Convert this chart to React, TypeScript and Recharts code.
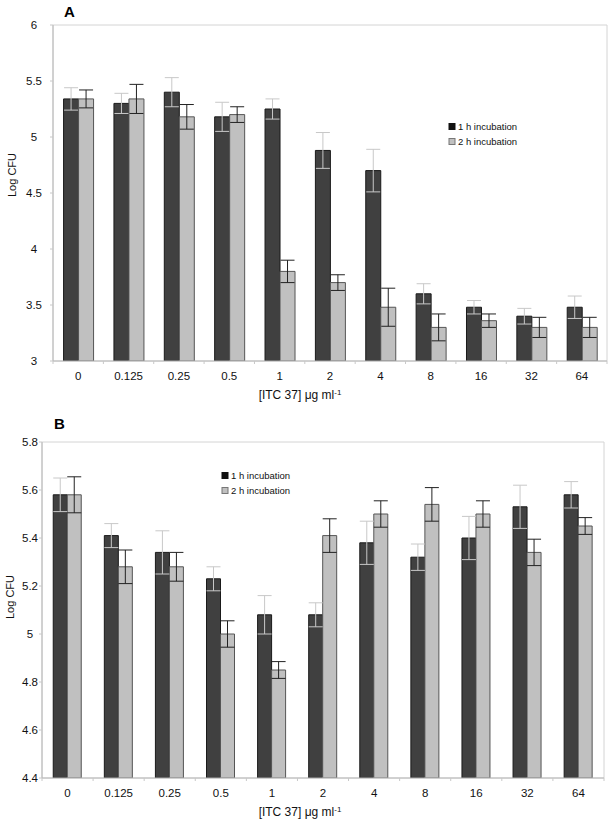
import React from 'react';
import { BarChart, Bar, XAxis, YAxis, ErrorBar, ReferenceArea } from 'recharts';

const concentrations = ['0', '0.125', '0.25', '0.5', '1', '2', '4', '8', '16', '32', '64'];

// panel A
const a1h = [5.34, 5.3, 5.4, 5.18, 5.25, 4.88, 4.7, 3.6, 3.48, 3.4, 3.48];
const a1hErr = [0.1, 0.09, 0.13, 0.13, 0.09, 0.16, 0.19, 0.09, 0.06, 0.07, 0.1];
const a2h = [5.34, 5.34, 5.18, 5.2, 3.8, 3.7, 3.48, 3.3, 3.36, 3.3, 3.3];
const a2hErr = [0.08, 0.13, 0.11, 0.07, 0.1, 0.07, 0.17, 0.12, 0.06, 0.09, 0.09];
const aTicks = [3, 3.5, 4, 4.5, 5, 5.5, 6];

// panel B
const b1h = [5.58, 5.41, 5.34, 5.23, 5.08, 5.08, 5.38, 5.32, 5.4, 5.53, 5.58];
const b1hErr = [0.07, 0.05, 0.09, 0.05, 0.08, 0.05, 0.09, 0.055, 0.09, 0.09, 0.055];
const b2h = [5.58, 5.28, 5.28, 5.0, 4.85, 5.41, 5.5, 5.54, 5.5, 5.34, 5.45];
const b2hErr = [0.075, 0.07, 0.06, 0.055, 0.035, 0.07, 0.055, 0.07, 0.055, 0.055, 0.035];
const bTicks = [4.4, 4.6, 4.8, 5, 5.2, 5.4, 5.6, 5.8];

const FONT = '"Liberation Sans", Arial, sans-serif';
const DARK = '#404040';
const LIGHT = '#c0c0c0';

const buildRows = (s1: number[], e1: number[], s2: number[], e2: number[]) =>
  concentrations.map((c, i) => ({ conc: c, h1: s1[i], h1Err: e1[i], h2: s2[i], h2Err: e2[i] }));

const dataA = buildRows(a1h, a1hErr, a2h, a2hErr);
const dataB = buildRows(b1h, b1hErr, b2h, b2hErr);

const XTick = (props: any) => {
  const { x, y, payload, index } = props;
  const half = payload.offset || 25;
  return (
    <g>
      <line x1={x - half} y1={y} x2={x - half} y2={y + 3} stroke="#c8c8c8" />
      {index === concentrations.length - 1 && (
        <line x1={x + half} y1={y} x2={x + half} y2={y + 3} stroke="#c8c8c8" />
      )}
      <text x={x} y={y + 19} textAnchor="middle" fontSize={11.5} fontFamily={FONT} fill="#111">
        {payload.value}
      </text>
    </g>
  );
};

const makeYTick = (shift: number) => (props: any) => {
  const { x, y, payload } = props;
  return (
    <g>
      <line x1={x - 3} y1={y} x2={x} y2={y} stroke="#c8c8c8" />
      <text x={x - shift} y={y + 4} textAnchor="middle" fontSize={11.5} fontFamily={FONT} fill="#111">
        {payload.value}
      </text>
    </g>
  );
};

const Legendish = ({ x, y }: { x: number; y: number }) => (
  <g fontFamily={FONT} fontSize={9.5} fill="#111">
    <rect x={x} y={y - 3.5} width={6} height={6} fill="#111" stroke="#111" />
    <text x={x + 9} y={y + 3}>1 h incubation</text>
    <rect x={x} y={y + 11.5} width={6} height={6} fill={LIGHT} stroke="#777" />
    <text x={x + 9} y={y + 18}>2 h incubation</text>
  </g>
);

const Panel = ({ data, domain, ticks, letter, letterX, letterY, yLabelX, yLabelY, legendX, legendY, margin, yWidth, tickShift, gap, height }: any) => (
  <BarChart width={612} height={height} data={data} margin={margin} barGap={0} barCategoryGap={gap}>
    <ReferenceArea y1={domain[0]} y2={domain[1]} fill="none" stroke="#d4d4d4" ifOverflow="visible" />
    <XAxis
      dataKey="conc"
      height={30}
      tickLine={false}
      tickSize={0}
      tickMargin={0}
      axisLine={{ stroke: '#b8b8b8' }}
      tick={<XTick />}
      interval={0}
      label={{
        content: () => (
          <text x={300} y={height === 405 ? 399 : 416} textAnchor="middle" fontSize={12} fontFamily={FONT} fill="#111">
            [ITC 37] μg ml
            <tspan dy={-4} fontSize={8}>-1</tspan>
          </text>
        ),
      }}
    />
    <YAxis
      type="number"
      domain={domain}
      ticks={ticks}
      width={yWidth}
      tickLine={false}
      tickSize={0}
      tickMargin={0}
      axisLine={{ stroke: '#b8b8b8' }}
      tick={makeYTick(tickShift)}
      allowDataOverflow
      label={{
        content: () => (
          <g fontFamily={FONT}>
            <text x={letterX} y={letterY} fontSize={15} fontWeight="bold" fill="#000">{letter}</text>
            <text
              x={yLabelX}
              y={yLabelY}
              transform={`rotate(-90 ${yLabelX} ${yLabelY})`}
              textAnchor="middle"
              dominantBaseline="central"
              fontSize={11}
              fill="#111"
            >
              Log CFU
            </text>
            <Legendish x={legendX} y={legendY} />
          </g>
        ),
      }}
    />
    <Bar dataKey="h1" fill={DARK} stroke="#1a1a1a" strokeWidth={1} isAnimationActive={false}>
      <ErrorBar dataKey="h1Err" width={7} stroke="#c8c8c8" strokeWidth={1} />
    </Bar>
    <Bar dataKey="h2" fill={LIGHT} stroke="#555" strokeWidth={1} isAnimationActive={false}>
      <ErrorBar dataKey="h2Err" width={7} stroke="#222" strokeWidth={1} />
    </Bar>
  </BarChart>
);

export default function App() {
  return (
    <div style={{ position: 'absolute', left: 0, top: 0, width: 612, height: 825, background: '#fff' }}>
      <div style={{ position: 'absolute', left: 0, top: 0 }}>
        <Panel
          data={dataA}
          domain={[3, 6]}
          ticks={aTicks}
          letter="A"
          letterX={64}
          letterY={17}
          yLabelX={12}
          yLabelY={175}
          legendX={449}
          legendY={127}
          margin={{ top: 25, right: 5, left: 13, bottom: 14 }}
          yWidth={40}
          tickShift={19}
          gap="21%"
          height={405}
        />
      </div>
      <div style={{ position: 'absolute', left: 0, top: 400 }}>
        <Panel
          data={dataB}
          domain={[4.4, 5.8]}
          ticks={bTicks}
          letter="B"
          letterX={54}
          letterY={29}
          yLabelX={10}
          yLabelY={197}
          legendX={222}
          legendY={76}
          margin={{ top: 42, right: 8, left: 12, bottom: 17 }}
          yWidth={30}
          tickShift={12}
          gap="22%"
          height={425}
        />
      </div>
    </div>
  );
}
